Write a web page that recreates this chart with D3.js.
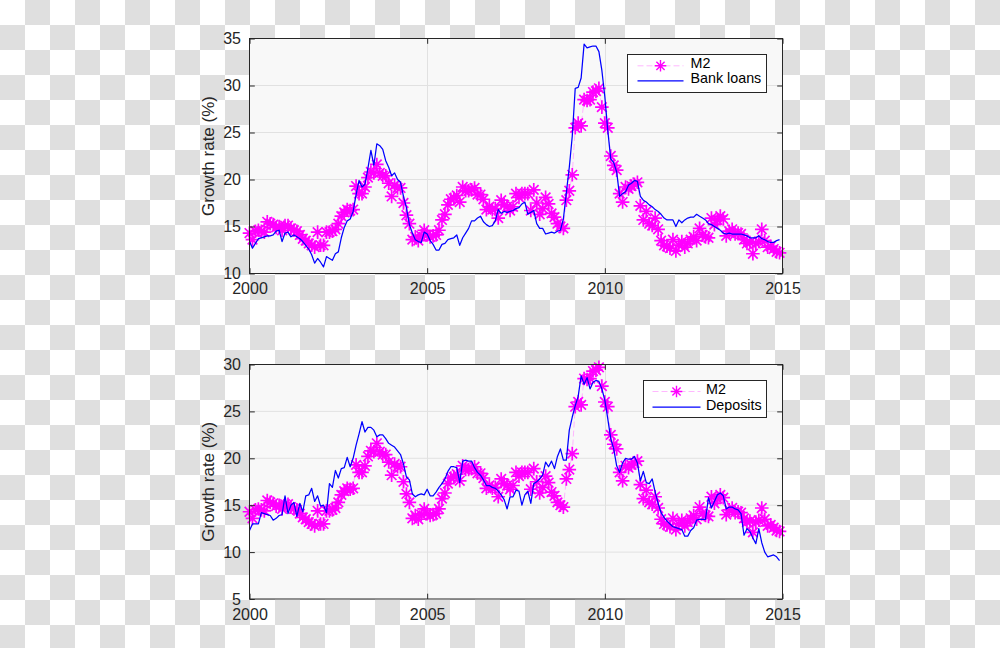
<!DOCTYPE html>
<html><head><meta charset="utf-8">
<script src="https://cdn.jsdelivr.net/npm/d3@7"></script>
<style>html,body{margin:0;padding:0;background:#fff;} svg{display:block;}</style>
</head><body>
<svg id="c" width="1000" height="648"></svg>
<script>
// Monthly growth rates (%), Jan 2000 .. Dec 2014
const m2 = [
 14.3,13.6,14.5,14.6,14.5,14.4,15.5,15.3,15.2,14.9,15.0,14.6,
 15.1,15.1,14.8,14.6,14.5,14.1,13.7,13.5,13.2,13.0,12.8,14.4,
 13.0,13.0,14.4,14.4,14.5,14.7,15.3,16.1,16.5,16.8,16.7,16.8,
 19.3,18.5,18.5,19.2,20.2,20.8,20.7,21.6,20.7,20.4,20.4,19.6,
 18.2,19.4,19.1,19.1,17.5,16.2,15.3,13.6,13.9,13.5,14.0,14.6,
 14.1,13.9,14.0,14.1,14.6,15.7,16.3,17.3,17.9,18.0,18.3,17.6,
 19.2,18.8,18.8,18.9,19.1,18.4,18.4,17.9,16.8,17.1,16.8,16.9,
 15.9,17.8,17.3,17.1,16.7,17.1,18.5,18.1,18.5,18.5,18.5,16.7,
 18.9,17.5,16.3,16.9,18.1,17.4,16.4,16.0,15.3,15.0,14.8,17.8,
 18.8,20.5,25.5,26.0,25.7,28.5,28.4,28.5,29.3,29.4,29.7,27.7,
 26.0,25.5,22.5,21.5,21.0,18.5,17.6,19.2,19.0,19.3,19.5,19.7,
 17.2,15.7,16.6,15.3,15.1,15.9,14.7,13.5,13.0,12.9,12.7,13.6,
 12.4,13.0,13.4,12.8,13.2,13.6,13.9,13.5,14.8,14.1,13.9,13.8,
 15.9,15.2,15.7,16.1,15.8,14.0,14.5,14.7,14.2,14.3,14.2,13.6,
 13.2,13.3,12.1,13.2,13.4,14.7,13.5,12.8,12.9,12.6,12.3,12.2
];
const loans = [
 13.4,12.7,13.2,13.7,13.8,13.9,14.0,14.0,14.1,14.5,14.6,13.4,
 14.3,14.4,13.9,14.1,13.9,13.7,13.4,13.0,12.6,12.0,11.1,11.6,
 11.2,10.7,11.8,11.6,11.4,12.1,12.3,13.8,14.9,15.6,15.8,16.6,
 18.4,19.9,19.2,19.5,21.2,23.1,21.5,23.8,23.6,23.2,22.0,21.3,
 20.4,20.7,20.0,19.7,18.2,17.0,15.2,14.3,13.6,13.4,13.3,14.4,
 14.2,13.5,13.1,12.5,12.5,13.1,13.2,13.6,13.7,13.8,14.1,13.0,
 13.8,14.3,14.8,15.6,15.6,15.9,16.1,15.5,15.2,15.0,15.1,15.6,
 16.8,16.4,16.6,16.5,16.6,16.7,16.9,17.0,17.4,17.6,16.3,16.5,
 16.7,15.3,14.8,14.8,14.2,14.3,14.4,14.3,14.5,14.6,15.8,18.6,
 21.3,24.6,29.7,29.8,30.8,34.4,34.0,34.1,34.2,34.2,33.6,31.6,
 28.8,25.2,22.2,21.8,20.8,18.2,18.5,18.7,19.4,19.6,19.9,19.8,
 18.2,17.8,17.6,17.3,17.1,16.8,16.6,16.3,15.9,15.7,15.7,15.7,
 15.0,15.7,15.4,15.7,15.9,16.0,16.0,16.3,16.1,15.9,15.7,15.3,
 15.2,15.0,14.8,14.6,14.3,14.2,14.3,14.2,14.2,14.2,14.2,14.1,
 14.0,13.8,13.8,13.8,14.0,13.7,13.6,13.4,13.3,13.3,13.5,13.6
];
const deposits = [
 12.3,13.0,13.0,13.0,14.2,14.1,14.0,13.9,13.4,13.6,13.9,14.0,
 16.0,14.1,15.0,15.3,13.8,15.2,14.3,16.0,16.1,16.8,15.4,16.0,
 14.9,15.0,14.2,17.3,16.9,18.7,17.9,18.9,19.0,20.1,19.1,20.0,
 21.4,22.6,23.9,22.8,23.3,23.3,23.0,22.3,22.5,22.5,22.1,21.6,
 21.4,21.2,20.8,20.4,19.4,18.0,17.7,16.2,15.9,16.1,16.2,16.1,
 16.7,16.0,16.0,16.4,16.9,17.3,17.8,18.6,19.1,19.1,19.0,17.4,
 19.7,19.8,19.7,19.7,19.0,18.5,18.2,17.7,17.1,17.1,16.9,16.8,
 16.5,16.1,15.6,14.6,15.9,15.9,16.6,16.5,15.0,16.1,16.5,15.2,
 17.3,17.5,17.8,18.2,19.6,19.1,19.7,18.9,20.2,21.0,19.8,19.8,
 23.0,24.4,25.6,26.6,28.8,27.9,28.6,27.4,28.1,28.3,28.2,27.4,
 26.2,24.2,22.1,21.0,19.2,18.5,19.5,20.0,19.9,19.9,20.2,19.5,
 17.6,18.6,17.4,17.3,17.8,16.4,15.2,14.2,13.7,13.3,13.0,12.7,
 12.6,12.5,12.4,11.7,11.7,12.3,12.6,13.4,13.5,13.5,13.5,15.8,
 14.7,15.4,16.1,16.3,16.0,14.6,14.8,14.8,14.6,14.5,14.1,11.8,
 12.5,12.2,11.5,10.9,12.5,11.0,10.0,9.5,9.6,9.7,9.5,9.1
];
const startYear = 2000;
const xTicks = [2000, 2005, 2010, 2015];
const yTicksTop = [10, 15, 20, 25, 30, 35];
const yTicksBottom = [5, 10, 15, 20, 25, 30];
const yLabel = "Growth rate (%)";
const legendTop = ["M2", "Bank loans"];
const legendBottom = ["M2", "Deposits"];

const svg = d3.select("#c");
const defs = svg.append("defs");
const pat = defs.append("pattern").attr("id","chk").attr("width",50).attr("height",50)
  .attr("patternUnits","userSpaceOnUse");
pat.append("rect").attr("width",50).attr("height",50).attr("fill","#ffffff");
pat.append("rect").attr("x",25).attr("y",0).attr("width",25).attr("height",25).attr("fill","#dfdfdf");
pat.append("rect").attr("x",0).attr("y",25).attr("width",25).attr("height",25).attr("fill","#dfdfdf");
svg.append("rect").attr("width",1000).attr("height",648).attr("fill","url(#chk)");

const AX = "#262626";
const FONT = "'Liberation Sans', Arial, Helvetica, sans-serif";
const times = m2.map((_, i) => startYear + i / 12);

function star(g, cx, cy, r, w) {
  const d = r * 0.7071;
  g.append("path")
    .attr("d", `M${cx-r},${cy}H${cx+r}M${cx},${cy-r}V${cy+r}M${cx-d},${cy-d}L${cx+d},${cy+d}M${cx-d},${cy+d}L${cx+d},${cy-d}`)
    .attr("stroke", "#ff00ff").attr("stroke-width", w).attr("fill", "none");
}

function panel(opt) {
  const x = d3.scaleLinear().domain([2000, 2015]).range([249.5, 782.5]);
  const y = d3.scaleLinear().domain(opt.ydom).range([opt.bottom, opt.top]);
  const g = svg.append("g");
  g.append("rect").attr("x", x(2000)).attr("y", opt.top)
    .attr("width", x(2015) - x(2000)).attr("height", opt.bottom - opt.top).attr("fill", "#f8f8f8");
  g.selectAll(".gx").data(xTicks.slice(1, -1)).enter().append("line")
    .attr("x1", d => Math.round(x(d)) + 0.5).attr("x2", d => Math.round(x(d)) + 0.5)
    .attr("y1", opt.top).attr("y2", opt.bottom).attr("stroke", "#e1e1e1").attr("stroke-width", 1);
  g.selectAll(".gy").data(opt.yticks.slice(1, -1)).enter().append("line")
    .attr("y1", d => y(d)).attr("y2", d => y(d))
    .attr("x1", x(2000)).attr("x2", x(2015)).attr("stroke", "#e1e1e1").attr("stroke-width", 1);
  const line = d3.line().x((d, i) => x(times[i])).y(d => y(d));
  g.append("path").datum(m2).attr("d", line).attr("fill", "none")
    .attr("stroke", "#ffa6ff").attr("stroke-width", 0.8).attr("stroke-dasharray", "6,3");
  const sg = g.append("g");
  m2.forEach((v, i) => star(sg, x(times[i]), y(v), 6.8, 1.7));
  g.append("path").datum(opt.series).attr("d", line).attr("fill", "none")
    .attr("stroke", "#0000ff").attr("stroke-width", 1.25).attr("stroke-linejoin", "round");
  g.append("rect").attr("x", x(2000)).attr("y", opt.top)
    .attr("width", x(2015) - x(2000)).attr("height", opt.bottom - opt.top)
    .attr("fill", "none").attr("stroke", AX).attr("stroke-width", 1);
  const tl = 5.3;
  const bAx = d3.axisBottom(x).tickValues(xTicks).tickFormat(d3.format("d")).tickSize(-tl);
  const ga = g.append("g").attr("transform", `translate(0,${opt.bottom})`).call(bAx);
  const tAx = d3.axisTop(x).tickValues(xTicks).tickFormat("").tickSize(-tl);
  const gt = g.append("g").attr("transform", `translate(0,${opt.top})`).call(tAx);
  const lAx = d3.axisLeft(y).tickValues(opt.yticks).tickFormat(d3.format("d")).tickSize(-tl);
  const gl = g.append("g").attr("transform", `translate(${x(2000)},0)`).call(lAx);
  const rAx = d3.axisRight(y).tickValues(opt.yticks).tickFormat("").tickSize(-tl);
  const gr = g.append("g").attr("transform", `translate(${x(2015)},0)`).call(rAx);
  [ga, gt, gl, gr].forEach(a => {
    a.select(".domain").remove();
    a.selectAll("line").attr("stroke", AX);
    a.selectAll("text").attr("fill", AX).attr("font-family", FONT).attr("font-size", 16);
  });
  ga.selectAll("text").attr("dy", null).attr("y", 20.5);
  gl.selectAll("text").attr("dy", "0.34em").attr("x", -8.5);
  g.append("text").attr("transform", `translate(214,${(opt.top + opt.bottom) / 2}) rotate(-90)`)
    .attr("text-anchor", "middle").attr("font-family", FONT).attr("font-size", 17).attr("fill", AX)
    .text(yLabel);
  const L = opt.legend;
  const lg = g.append("g");
  lg.append("rect").attr("x", L.x0).attr("y", L.y0).attr("width", L.x1 - L.x0).attr("height", L.y1 - L.y0)
    .attr("fill", "#ffffff").attr("stroke", AX).attr("stroke-width", 1);
  lg.append("line").attr("x1", L.lx0).attr("x2", L.lx1).attr("y1", L.b1 - 2.5).attr("y2", L.b1 - 2.5)
    .attr("stroke", "#ffa6ff").attr("stroke-width", 0.8).attr("stroke-dasharray", "6,3");
  star(lg, (L.lx0 + L.lx1) / 2, L.b1 - 2.5, 5.8, 1.4);
  lg.append("line").attr("x1", L.lx0).attr("x2", L.lx1).attr("y1", L.b2 - 2.5).attr("y2", L.b2 - 2.5)
    .attr("stroke", "#0000ff").attr("stroke-width", 1.25);
  lg.append("text").attr("x", L.tx).attr("y", L.b1).attr("font-family", FONT).attr("font-size", 14.3)
    .attr("fill", "#000").text(opt.legendText[0]);
  lg.append("text").attr("x", L.tx).attr("y", L.b2).attr("font-family", FONT).attr("font-size", 14.3)
    .attr("fill", "#000").text(opt.legendText[1]);
}

panel({ydom: [10, 35], top: 38.5, bottom: 273.5, yticks: yTicksTop, series: loans, legendText: legendTop,
  legend: {x0: 627.5, x1: 766.5, y0: 54.5, y1: 92.5, lx0: 637.5, lx1: 683.5, tx: 690.5, b1: 68.3, b2: 83.3}});
panel({ydom: [5, 30], top: 364.5, bottom: 599, yticks: yTicksBottom, series: deposits, legendText: legendBottom,
  legend: {x0: 643.5, x1: 766.5, y0: 380.5, y1: 417.5, lx0: 652.5, lx1: 700.5, tx: 706, b1: 394, b2: 409.5}});
</script>
</body></html>
